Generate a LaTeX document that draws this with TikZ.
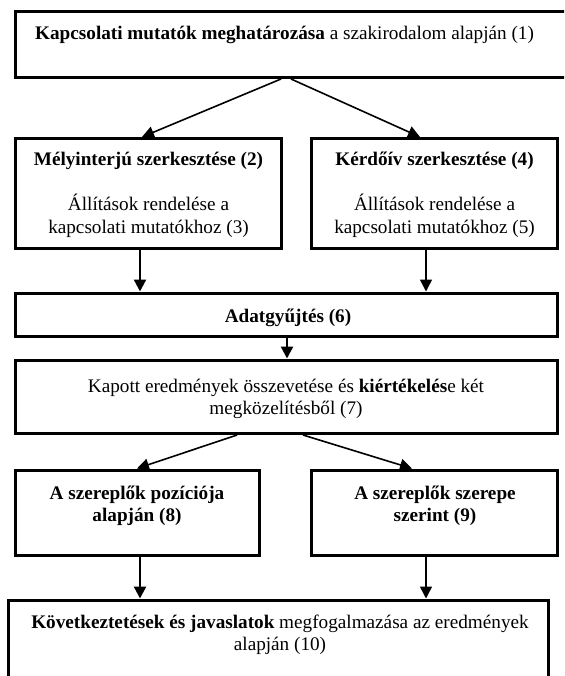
\documentclass[tikz,border=0pt]{standalone}
\usepackage{fontspec}
\setmainfont{Liberation Serif}
\usetikzlibrary{arrows.meta}
\begin{document}
\begin{tikzpicture}[x=1pt,y=-1pt,
  box/.style={draw, line width=3pt, rectangle, inner sep=0pt},
  txt/.style={inner sep=0pt, anchor=base, font=\fontsize{19.2}{22}\selectfont},
  txtb/.style={txt, font=\fontsize{19.2}{22}\selectfont\bfseries},
  arr/.style={line width=1.6pt, -{Triangle[length=12pt,width=12pt]}},
  arrthick/.style={arr, line width=2.4pt},
  arrthin/.style={arr, line width=1.5pt}]
\useasboundingbox (0,0) rectangle (564,676);
\clip (0,0) rectangle (564,676);

% boxes
\node[box, minimum width=550.5pt, minimum height=66pt]  (b1)  at (290.75,44.5) {};
\node[box, minimum width=266pt,   minimum height=110pt] (b2)  at (148.5,193.5) {};
\node[box, minimum width=246pt,   minimum height=110pt] (b4)  at (434.5,193.5) {};
\node[box, minimum width=542pt,   minimum height=43.5pt] (b6) at (286.5,314.75) {};
\node[box, minimum width=542pt,   minimum height=73.5pt] (b7) at (286.5,396.75) {};
\node[box, minimum width=244pt,   minimum height=85pt]  (b8)  at (137.5,512.5) {};
\node[box, minimum width=246pt,   minimum height=85pt]  (b9)  at (434.5,512.5) {};
\node[box, minimum width=540pt,   minimum height=90pt]  (b10) at (278.5,645) {};

% texts
\node[txt, anchor=base west] (t1) at (35,40) {\textbf{Kapcsolati mutatók meghatározása} a szakirodalom alapján (1)};

\node[txtb] (t2)  at (148.5,166) {Mélyinterjú szerkesztése (2)};
\node[txt]  (t3a) at (148.5,211) {Állítások rendelése a};
\node[txt]  (t3b) at (148.5,233) {kapcsolati mutatókhoz (3)};

\node[txtb] (t4)  at (434.5,166) {Kérdőív szerkesztése (4)};
\node[txt]  (t5a) at (434.5,211) {Állítások rendelése a};
\node[txt]  (t5b) at (434.5,233) {kapcsolati mutatókhoz (5)};

\node[txtb] (t6)  at (288,322) {Adatgyűjtés (6)};

\node[txt]  (t7a) at (286,392) {Kapott eredmények összevetése és \textbf{kiértékelés}e két};
\node[txt]  (t7b) at (286,414) {megközelítésből (7)};

\node[txtb] (t8a) at (137,499) {A szereplők pozíciója};
\node[txtb] (t8b) at (137,521) {alapján (8)};

\node[txtb] (t9a) at (435,499) {A szereplők szerepe};
\node[txtb] (t9b) at (435,521) {szerint (9)};

\node[txt]  (t10a) at (280,628) {\textbf{Következtetések és javaslatok} megfogalmazása az eredmények};
\node[txt]  (t10b) at (280,650) {alapján (10)};

% connectors
\draw[arr] ([xshift=-9.75pt]b1.south) -- ([xshift=-6.5pt]b2.north);
\draw[arr] ([xshift=0.25pt]b1.south) -- ([xshift=-14.5pt]b4.north);
\draw[arrthick] ([xshift=-8.5pt]b2.south) -- ([xshift=-146.5pt]b6.north);
\draw[arrthin]  ([xshift=-8.5pt]b4.south) -- ([xshift=139.5pt]b6.north);
\draw[arrthick] ([xshift=0.5pt]b6.south) -- ([xshift=0.5pt]b7.north);
\draw[arr] ([xshift=-49.5pt]b7.south) -- ([xshift=-0.5pt]b8.north);
\draw[arr] ([xshift=16.5pt]b7.south) -- ([xshift=-22.5pt]b9.north);
\draw[arrthick] ([xshift=2.5pt]b8.south) -- ([xshift=-138.5pt]b10.north);
\draw[arrthin]  ([xshift=-8.5pt]b9.south) -- ([xshift=147.5pt]b10.north);
\end{tikzpicture}
\end{document}
